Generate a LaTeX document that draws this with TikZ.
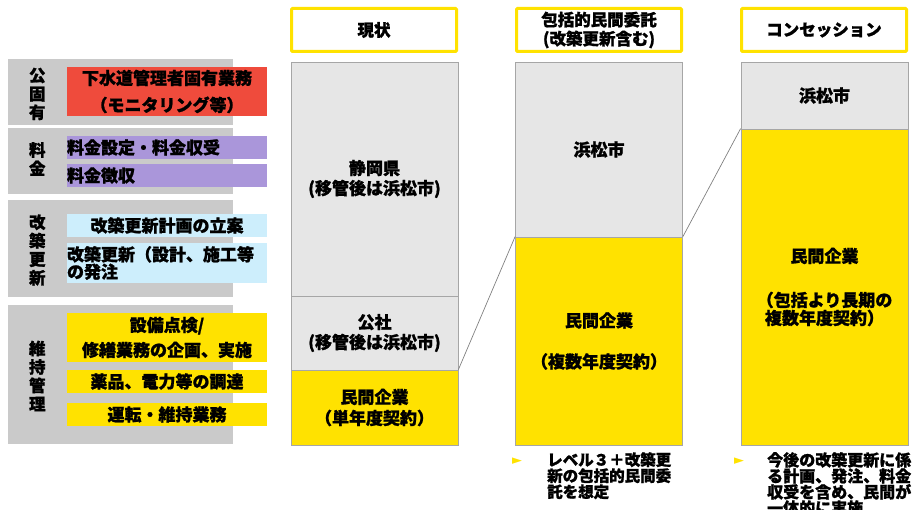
\documentclass[tikz,border=0pt]{standalone}
\usepackage{fontspec}
\setmainfont{Noto Sans CJK JP}[BoldFeatures={FakeBold=1.2}]
\newfontfamily\symfont{DejaVu Sans}
\definecolor{sidegray}{HTML}{CACACA}
\definecolor{boxgray}{HTML}{E6E6E6}
\definecolor{edgegray}{HTML}{A6A6A6}
\definecolor{mainyellow}{HTML}{FFE200}
\definecolor{taskred}{HTML}{EF4B3C}
\definecolor{taskpurple}{HTML}{AA96DA}
\definecolor{taskblue}{HTML}{CDEEFC}

\begin{document}
\begin{tikzpicture}[x=1pt,y=-1pt,
  side box/.style={fill=sidegray, minimum width=225pt, inner sep=0pt},
  side label/.style={text width=1em, align=center, inner sep=0pt,
    font=\fontsize{16.5}{18.5}\selectfont\bfseries},
  task box/.style={minimum width=200pt, inner sep=0pt, align=center,
    font=\fontsize{17}{18}\selectfont\bfseries},
  left task/.style={task box, text width=200pt, align=left},
  head box/.style={draw=mainyellow, line width=3pt, rounded corners=1pt, fill=white,
    minimum width=165pt, minimum height=43pt, inner sep=0pt, align=center,
    font=\fontsize{16.5}{19}\selectfont\bfseries},
  col box/.style={draw=edgegray, line width=0.8pt, minimum width=167pt, inner sep=0pt,
    align=center, font=\fontsize{17}{20}\selectfont\bfseries},
  city box/.style={col box, fill=boxgray},
  firm box/.style={col box, fill=mainyellow},
  note/.style={anchor=north west, inner sep=0pt, align=left,
    font=\fontsize{15.5}{16}\selectfont\bfseries},
  bullet/.style={text=mainyellow, inner sep=0pt, font=\symfont\fontsize{13}{13}\selectfont}]
  \useasboundingbox (0,0) rectangle (913,510);

  % left side: tasks by group
  \node[side box, minimum height=66pt] (g1) at (120.5,92) {};
  \node[side box, minimum height=66pt] (g2) at (120.5,161) {};
  \node[side box, minimum height=97pt] (g3) at (120.5,248.5) {};
  \node[side box, minimum height=139pt] (g4) at (120.5,374.5) {};
  \node[side label] (l1) at (34,94) {公\\固\\有};
  \node[side label] (l2) at (34,159) {料\\金};
  \node[side label] (l3) at (34,250) {改\\築\\更\\新};
  \node[side label] (l4) at (34,376) {維\\持\\管\\理};

  \node[task box, fill=taskred, minimum height=49pt,
    font=\fontsize{17}{27}\selectfont\bfseries] (t1) at (167,91.5) {下水道管理者固有業務\\（モニタリング等）};
  \node[left task, fill=taskpurple, minimum height=23pt] (t2) at (167,147.5) {料金設定・料金収受};
  \node[left task, fill=taskpurple, minimum height=23pt] (t3) at (167,175.5) {料金徴収};
  \node[task box, fill=taskblue, minimum height=23pt] (t4) at (167,225.5) {改築更新計画の立案};
  \node[left task, fill=taskblue, minimum height=40pt,
    font=\fontsize{17}{16}\selectfont\bfseries] (t5) at (167,263) {改築更新（設計、施工等\\の発注};
  \node[task box, fill=mainyellow, minimum height=49pt,
    font=\fontsize{17}{25}\selectfont\bfseries] (t6) at (167,337.5) {設備点検/\\修繕業務の企画、実施};
  \node[task box, fill=mainyellow, minimum height=23pt] (t7) at (167,381.5) {薬品、電力等の調達};
  \node[task box, fill=mainyellow, minimum height=23pt] (t8) at (167,414.5) {運転・維持業務};

  % columns
  \node[head box] (h1) at (374,30) {現状};
  \node[head box] (h2) at (599,30) {包括的民間委託\\(改築更新含む)};
  \node[head box] (h3) at (824,30) {コンセッション};

  \node[city box, minimum height=234pt] (c1a) at (374.5,179) {静岡県\\(移管後は浜松市)};
  \node[city box, minimum height=74pt] (c1b) at (374.5,333) {公社\\(移管後は浜松市)};
  \node[firm box, minimum height=75pt,
    font=\fontsize{17}{21}\selectfont\bfseries] (c1c) at (374.5,407.5) {民間企業\\（単年度契約）};

  \node[city box, minimum height=175pt] (c2a) at (599,149.5) {浜松市};
  \node[firm box, minimum height=208pt,
    font=\fontsize{17}{20.5}\selectfont\bfseries] (c2b) at (599,341) {民間企業\\[20.5pt]（複数年度契約）};

  \node[city box, minimum height=67pt] (c3a) at (824.5,95.5) {浜松市};
  \node[firm box, minimum height=316pt,
    font=\fontsize{17}{18}\selectfont\bfseries] (c3b) at (824.5,287) {民間企業\\[26pt]（包括より長期の\\複数年度契約）};

  \path (c1c.north east) [-,draw=gray,line width=0.7pt] edge (c2b.north west);
  \path (c2b.north east) [-,draw=gray,line width=0.7pt] edge (c3b.north west);

  % notes
  \node[bullet] (b1) at (517,461) {►};
  \node[note] (n1) at (547,452) {レベル３＋改築更\\新の包括的民間委\\託を想定};
  \node[bullet] (b2) at (739,461) {►};
  \node[note, font=\fontsize{16}{16}\selectfont\bfseries] (n2) at (767,452) {今後の改築更新に係\\る計画、発注、料金\\収受を含め、民間が\\一体的に実施};
\end{tikzpicture}
\end{document}
